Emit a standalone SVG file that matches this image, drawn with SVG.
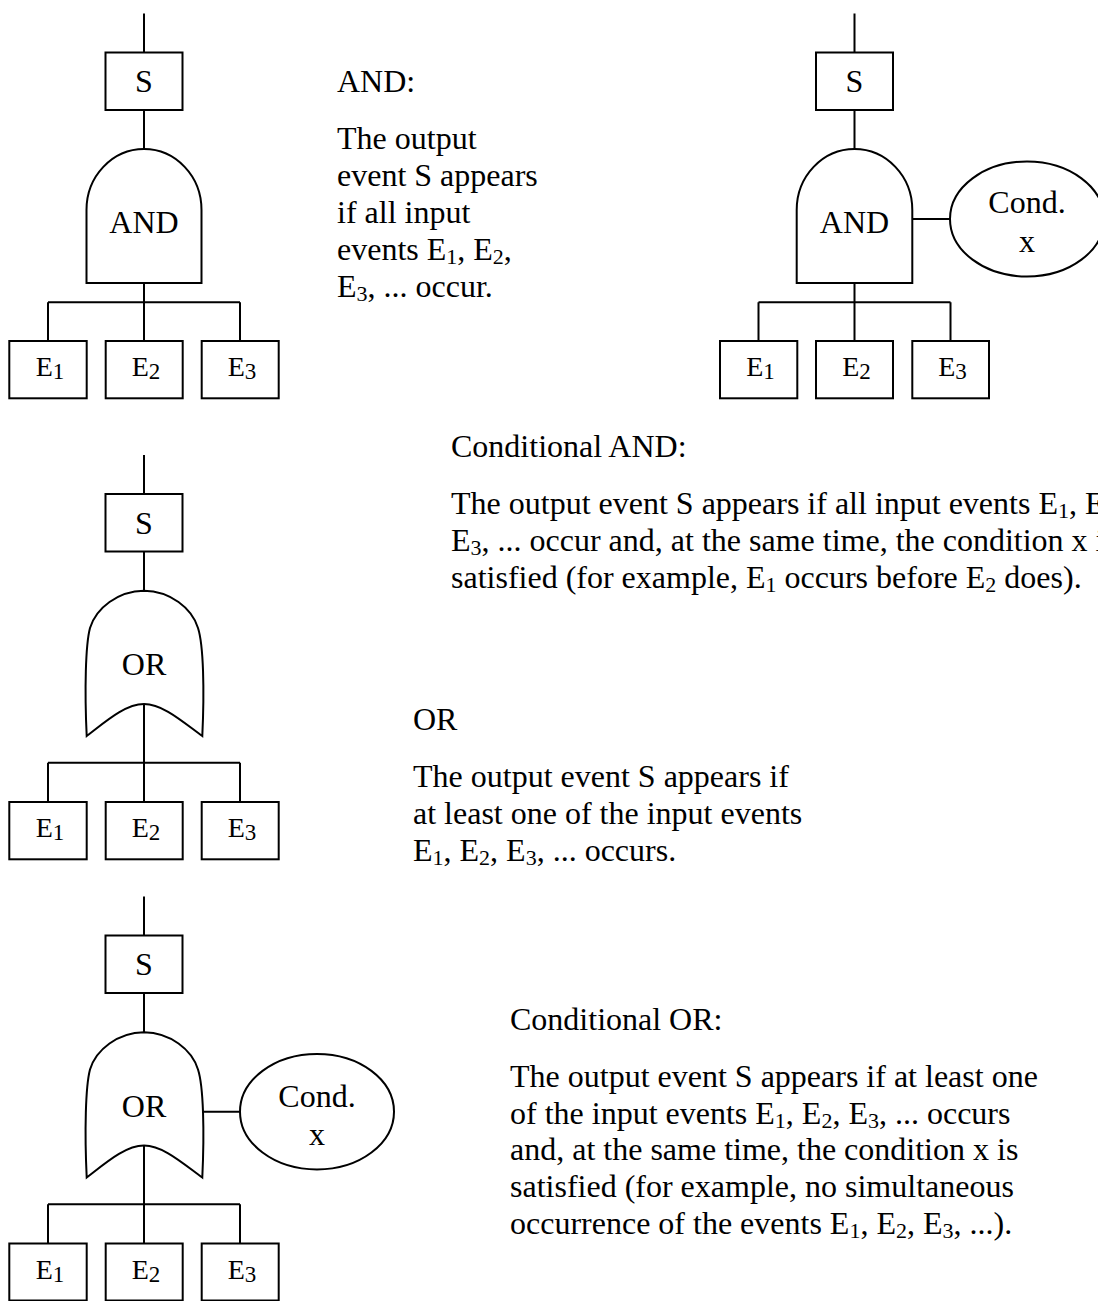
<svg xmlns="http://www.w3.org/2000/svg" width="1098" height="1301" viewBox="0 0 1098 1301">
<style>
.ln{stroke:#000;stroke-width:2;fill:none}
.shape{fill:#fff;stroke:#000;stroke-width:2}
text{font-family:"Liberation Serif","Times New Roman",serif;fill:#000}
.lbl{font-size:32px;text-anchor:middle}
.ev{font-size:28px;text-anchor:middle}
.evs{font-size:23px}
.desc{font-size:32px}
.sub{font-size:22px}
</style>
<rect width="1098" height="1301" fill="#fff"/>
<g id="connectors">
  <path class="ln" d="M144,13.5V52.5M144,110V149M144,283V302.3M48,302.3H240M48,302.3V341M144,302.3V341M240,302.3V341"/>
  <path class="ln" d="M854.5,13.5V52.5M854.5,110V149M854.5,283V302.3M758.5,302.3H950.5M758.5,302.3V341M854.5,302.3V341M950.5,302.3V341M912,219H950"/>
  <path class="ln" d="M144,455V494M144,551.5V590.7M144,704V762.7M48,762.7H240M48,762.7V802M144,762.7V802M240,762.7V802"/>
  <path class="ln" d="M144,896.5V935.5M144,993V1032.2M144,1145.5V1204.2M48,1204.2H240M48,1204.2V1243.5M144,1204.2V1243.5M240,1204.2V1243.5M202.5,1111.7H240"/>
</g>

<g id="and-S"><rect class="shape" x="105.5" y="52.5" width="77" height="57.5"/><text class="lbl" x="144" y="92">S</text></g>
<g id="and-gate"><path class="shape" d="M86.5,283V210A57.5,61 0 0 1 201.5,210V283Z"/><text class="lbl" x="144" y="233">AND</text></g>
<g id="and-E1"><rect class="shape" x="9.3" y="341" width="77.4" height="57.3"/><text class="ev" x="50" y="376">E<tspan class="evs" dy="3">1</tspan></text></g>
<g id="and-E2"><rect class="shape" x="105.7" y="341" width="77" height="57.3"/><text class="ev" x="146" y="376">E<tspan class="evs" dy="3">2</tspan></text></g>
<g id="and-E3"><rect class="shape" x="201.7" y="341" width="77" height="57.3"/><text class="ev" x="242" y="376">E<tspan class="evs" dy="3">3</tspan></text></g>

<g id="cand-S"><rect class="shape" x="816" y="52.5" width="77" height="57.5"/><text class="lbl" x="854.5" y="92">S</text></g>
<g id="cand-gate"><path class="shape" d="M796.7,283V210A57.8,61 0 0 1 912.3,210V283Z"/><text class="lbl" x="854.5" y="233">AND</text></g>
<g id="cand-cond"><ellipse class="shape" cx="1027" cy="219" rx="77" ry="57.5"/><text class="lbl" x="1027" y="213">Cond.</text><text class="lbl" x="1027" y="251.5">x</text></g>
<g id="cand-E1"><rect class="shape" x="720" y="341" width="77.3" height="57.3"/><text class="ev" x="760.5" y="376">E<tspan class="evs" dy="3">1</tspan></text></g>
<g id="cand-E2"><rect class="shape" x="816" y="341" width="77" height="57.3"/><text class="ev" x="856.5" y="376">E<tspan class="evs" dy="3">2</tspan></text></g>
<g id="cand-E3"><rect class="shape" x="912.3" y="341" width="76.7" height="57.3"/><text class="ev" x="952.5" y="376">E<tspan class="evs" dy="3">3</tspan></text></g>

<g id="or-S"><rect class="shape" x="105.5" y="494" width="77" height="57.5"/><text class="lbl" x="144" y="533.5">S</text></g>
<g id="or-gate"><path class="shape" d="M144,590.7C118,591 96,608 90,628C85.5,645 84.5,690 86.7,736C105,722 125,704 144,704C163,704 183,722 202.3,736C204.5,690 203.5,645 198,628C192,608 170,591 144,590.7Z"/><text class="lbl" x="144" y="675">OR</text></g>
<g id="or-E1"><rect class="shape" x="9.3" y="802" width="77.4" height="57.3"/><text class="ev" x="50" y="837">E<tspan class="evs" dy="3">1</tspan></text></g>
<g id="or-E2"><rect class="shape" x="105.7" y="802" width="77" height="57.3"/><text class="ev" x="146" y="837">E<tspan class="evs" dy="3">2</tspan></text></g>
<g id="or-E3"><rect class="shape" x="201.7" y="802" width="77" height="57.3"/><text class="ev" x="242" y="837">E<tspan class="evs" dy="3">3</tspan></text></g>

<g id="cor-S"><rect class="shape" x="105.5" y="935.5" width="77" height="57.5"/><text class="lbl" x="144" y="975">S</text></g>
<g id="cor-gate"><path class="shape" d="M144,1032.2C118,1032.5 96,1049.5 90,1069.5C85.5,1086.5 84.5,1131.5 86.7,1177.5C105,1163.5 125,1145.5 144,1145.5C163,1145.5 183,1163.5 202.3,1177.5C204.5,1131.5 203.5,1086.5 198,1069.5C192,1049.5 170,1032.5 144,1032.2Z"/><text class="lbl" x="144" y="1116.5">OR</text></g>
<g id="cor-cond"><ellipse class="shape" cx="317" cy="1111.7" rx="77" ry="57.7"/><text class="lbl" x="317" y="1106.5">Cond.</text><text class="lbl" x="317" y="1145">x</text></g>
<g id="cor-E1"><rect class="shape" x="9.3" y="1243.5" width="77.4" height="57"/><text class="ev" x="50" y="1278.5">E<tspan class="evs" dy="3">1</tspan></text></g>
<g id="cor-E2"><rect class="shape" x="105.7" y="1243.5" width="77" height="57"/><text class="ev" x="146" y="1278.5">E<tspan class="evs" dy="3">2</tspan></text></g>
<g id="cor-E3"><rect class="shape" x="201.7" y="1243.5" width="77" height="57"/><text class="ev" x="242" y="1278.5">E<tspan class="evs" dy="3">3</tspan></text></g>

<g id="desc-and">
  <text class="desc" x="337" y="91.7">AND:</text>
  <text class="desc" x="337" y="149">The output</text>
  <text class="desc" x="337" y="186">event S appears</text>
  <text class="desc" x="337" y="223">if all input</text>
  <text class="desc" x="337" y="260">events E<tspan class="sub" dy="4">1</tspan><tspan dy="-4">, E</tspan><tspan class="sub" dy="4">2</tspan><tspan dy="-4">,</tspan></text>
  <text class="desc" x="337" y="297">E<tspan class="sub" dy="4">3</tspan><tspan dy="-4">, ... occur.</tspan></text>
</g>
<g id="desc-cand">
  <text class="desc" x="451" y="457">Conditional AND:</text>
  <text class="desc" x="451" y="514">The output event S appears if all input events E<tspan class="sub" dy="4">1</tspan><tspan dy="-4">, E</tspan><tspan class="sub" dy="4">2</tspan><tspan dy="-4">,</tspan></text>
  <text class="desc" x="451" y="551">E<tspan class="sub" dy="4">3</tspan><tspan dy="-4">, ... occur and, at the same time, the condition x is</tspan></text>
  <text class="desc" x="451" y="588">satisfied (for example, E<tspan class="sub" dy="4">1</tspan><tspan dy="-4"> occurs before E</tspan><tspan class="sub" dy="4">2</tspan><tspan dy="-4"> does).</tspan></text>
</g>
<g id="desc-or">
  <text class="desc" x="413" y="730">OR</text>
  <text class="desc" x="413" y="787">The output event S appears if</text>
  <text class="desc" x="413" y="824">at least one of the input events</text>
  <text class="desc" x="413" y="861">E<tspan class="sub" dy="4">1</tspan><tspan dy="-4">, E</tspan><tspan class="sub" dy="4">2</tspan><tspan dy="-4">, E</tspan><tspan class="sub" dy="4">3</tspan><tspan dy="-4">, ... occurs.</tspan></text>
</g>
<g id="desc-cor">
  <text class="desc" x="510" y="1030">Conditional OR:</text>
  <text class="desc" x="510" y="1087">The output event S appears if at least one</text>
  <text class="desc" x="510" y="1124">of the input events E<tspan class="sub" dy="4">1</tspan><tspan dy="-4">, E</tspan><tspan class="sub" dy="4">2</tspan><tspan dy="-4">, E</tspan><tspan class="sub" dy="4">3</tspan><tspan dy="-4">, ... occurs</tspan></text>
  <text class="desc" x="510" y="1160">and, at the same time, the condition x is</text>
  <text class="desc" x="510" y="1197">satisfied (for example, no simultaneous</text>
  <text class="desc" x="510" y="1234">occurrence of the events E<tspan class="sub" dy="4">1</tspan><tspan dy="-4">, E</tspan><tspan class="sub" dy="4">2</tspan><tspan dy="-4">, E</tspan><tspan class="sub" dy="4">3</tspan><tspan dy="-4">, ...).</tspan></text>
</g>
</svg>
